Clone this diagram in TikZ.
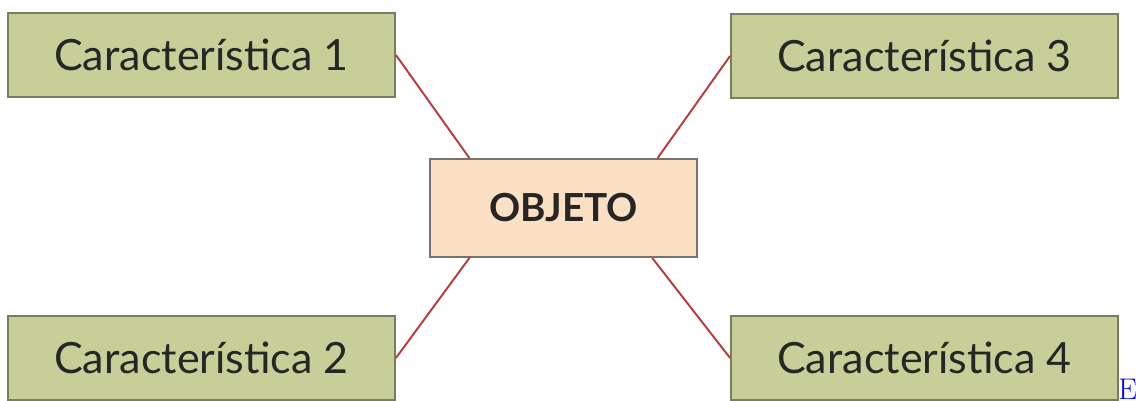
\documentclass[tikz,border=0pt]{standalone}
\usepackage{fontspec}
\setmainfont{Lato}
\usetikzlibrary{positioning,calc}
\definecolor{verde}{RGB}{200,206,152}
\definecolor{verdeborde}{RGB}{122,124,96}
\definecolor{piel}{RGB}{252,224,196}
\definecolor{pielborde}{RGB}{122,114,106}
\definecolor{rojo}{RGB}{184,58,58}
\begin{document}
\begin{tikzpicture}[x=0.02cm,y=-0.02cm,
    carac/.style={draw=verdeborde, line width=1.1pt, fill=verde, minimum width=7.74cm, minimum height=1.68cm, inner sep=0pt, font=\fontsize{24.5}{28}\selectfont, text=black!85},
    objeto/.style={draw=pielborde, line width=1.1pt, fill=piel, minimum width=5.34cm, minimum height=1.96cm, inner sep=0pt, font=\fontsize{22}{26}\selectfont\bfseries, text=black!85},
    enlace/.style={rojo, line width=1.1pt}]
    \useasboundingbox (0,0) rectangle (1136,400);
    \node[objeto] (obj) at (563.5,208) {OBJETO};
    \node[carac] (c1) at (201.5,55) {Característica 1};
    \node[carac] (c2) at (201.5,358) {Característica 2};
    \node[carac] (c3) at (924.5,56) {Característica 3};
    \node[carac] (c4) at (924.5,358) {Característica 4};
    \draw[enlace](c1.east)--($(obj.north west)!.15!(obj.north east)$);
    \draw[enlace](c3.west)--($(obj.north west)!.85!(obj.north east)$);
    \draw[enlace](c2.east)--($(obj.south west)!.15!(obj.south east)$);
    \draw[enlace](c4.west)--($(obj.south west)!.83!(obj.south east)$);
    \node[anchor=base west, inner sep=0pt, text=blue, font=\fontspec{Latin Modern Roman}\fontsize{17}{20}\selectfont] (enlaceE) at (1118,399) {E};
\end{tikzpicture}
\end{document}
